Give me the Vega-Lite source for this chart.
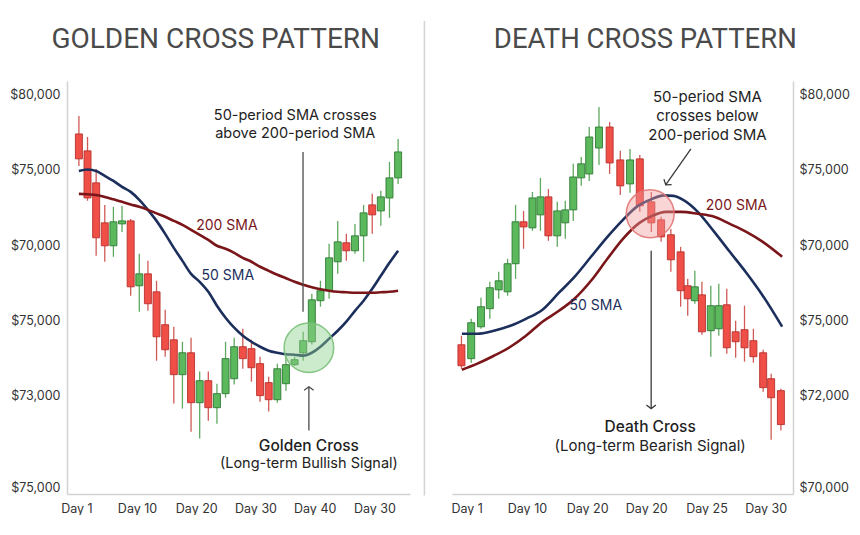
{
  "$schema": "https://vega.github.io/schema/vega-lite/v6.json",
  "background": "white",
  "padding": {"left": 9, "top": 20, "right": 0, "bottom": 0},
  "bounds": "flush",
  "spacing": 42,
  "config": {
    "view": {"stroke": null},
    "axis": {"labelFont": "Inter", "labelFontSize": 12.5, "labelColor": "#333333", "domainColor": "#d2d2d2", "domainWidth": 1.5, "ticks": false, "grid": false, "title": null, "labelFlush": false, "labelOverlap": false},
    "text": {"font": "Inter"}
  },
  "datasets": {
    "golden": [
      {"i": 1, "open": 77360, "high": 78550, "low": 75240, "close": 75710},
      {"i": 2, "open": 76240, "high": 77160, "low": 72930, "close": 73120},
      {"i": 3, "open": 74120, "high": 75040, "low": 69290, "close": 70480},
      {"i": 4, "open": 71470, "high": 72660, "low": 68890, "close": 69950},
      {"i": 5, "open": 69950, "high": 72530, "low": 69220, "close": 71540},
      {"i": 6, "open": 71400, "high": 72600, "low": 70870, "close": 71600},
      {"i": 7, "open": 71600, "high": 71730, "low": 66640, "close": 67230},
      {"i": 8, "open": 67300, "high": 69420, "low": 65580, "close": 68090},
      {"i": 9, "open": 68090, "high": 68950, "low": 65640, "close": 66110},
      {"i": 10, "open": 66900, "high": 67630, "low": 62330, "close": 63920},
      {"i": 11, "open": 64720, "high": 65710, "low": 62600, "close": 63060},
      {"i": 12, "open": 63720, "high": 64580, "low": 59490, "close": 61410},
      {"i": 13, "open": 61410, "high": 63590, "low": 59160, "close": 62860},
      {"i": 14, "open": 62860, "high": 63860, "low": 57630, "close": 59550},
      {"i": 15, "open": 59550, "high": 61610, "low": 57170, "close": 61010},
      {"i": 16, "open": 61010, "high": 61610, "low": 58360, "close": 59220},
      {"i": 17, "open": 59220, "high": 60810, "low": 58160, "close": 60150},
      {"i": 18, "open": 60150, "high": 63590, "low": 59880, "close": 62470},
      {"i": 19, "open": 61140, "high": 63860, "low": 60750, "close": 63260},
      {"i": 20, "open": 63260, "high": 64450, "low": 61800, "close": 62470},
      {"i": 21, "open": 63130, "high": 63720, "low": 60940, "close": 61870},
      {"i": 22, "open": 62140, "high": 62600, "low": 59620, "close": 60020},
      {"i": 23, "open": 60880, "high": 61270, "low": 58960, "close": 59750},
      {"i": 24, "open": 59750, "high": 62140, "low": 59550, "close": 61800},
      {"i": 25, "open": 60810, "high": 62800, "low": 60350, "close": 62070},
      {"i": 26, "open": 62070, "high": 62600, "low": 61990, "close": 62400},
      {"i": 27, "open": 62860, "high": 64250, "low": 62330, "close": 63660},
      {"i": 28, "open": 63590, "high": 66770, "low": 63400, "close": 66370},
      {"i": 29, "open": 66310, "high": 67630, "low": 65910, "close": 66970},
      {"i": 30, "open": 66970, "high": 70080, "low": 66440, "close": 69150},
      {"i": 31, "open": 68890, "high": 71600, "low": 68090, "close": 70210},
      {"i": 32, "open": 70150, "high": 70740, "low": 68950, "close": 69620},
      {"i": 33, "open": 69620, "high": 71400, "low": 69420, "close": 70610},
      {"i": 34, "open": 70610, "high": 72660, "low": 68890, "close": 72130},
      {"i": 35, "open": 72660, "high": 73390, "low": 70740, "close": 72000},
      {"i": 36, "open": 72260, "high": 73590, "low": 71270, "close": 73190},
      {"i": 37, "open": 73120, "high": 75510, "low": 71800, "close": 74450},
      {"i": 38, "open": 74450, "high": 77030, "low": 74050, "close": 76170}
    ],
    "goldenSMA": [
      {"i": 1, "series": "50 SMA", "p": 74910}, {"i": 2, "series": "50 SMA", "p": 75010}, {"i": 3, "series": "50 SMA", "p": 74910},
      {"i": 4, "series": "50 SMA", "p": 74580}, {"i": 5, "series": "50 SMA", "p": 74250}, {"i": 6, "series": "50 SMA", "p": 73850},
      {"i": 7, "series": "50 SMA", "p": 73520}, {"i": 8, "series": "50 SMA", "p": 72990}, {"i": 9, "series": "50 SMA", "p": 72330},
      {"i": 10, "series": "50 SMA", "p": 71600}, {"i": 11, "series": "50 SMA", "p": 70740}, {"i": 12, "series": "50 SMA", "p": 69810},
      {"i": 13, "series": "50 SMA", "p": 68950}, {"i": 14, "series": "50 SMA", "p": 68090}, {"i": 15, "series": "50 SMA", "p": 67560},
      {"i": 16, "series": "50 SMA", "p": 66900}, {"i": 17, "series": "50 SMA", "p": 65980}, {"i": 18, "series": "50 SMA", "p": 65180},
      {"i": 19, "series": "50 SMA", "p": 64520}, {"i": 20, "series": "50 SMA", "p": 63990}, {"i": 21, "series": "50 SMA", "p": 63590},
      {"i": 22, "series": "50 SMA", "p": 63260}, {"i": 23, "series": "50 SMA", "p": 63000}, {"i": 24, "series": "50 SMA", "p": 62860},
      {"i": 25, "series": "50 SMA", "p": 62760}, {"i": 26, "series": "50 SMA", "p": 62730}, {"i": 27, "series": "50 SMA", "p": 62670},
      {"i": 28, "series": "50 SMA", "p": 62860}, {"i": 29, "series": "50 SMA", "p": 63260}, {"i": 30, "series": "50 SMA", "p": 63790},
      {"i": 31, "series": "50 SMA", "p": 64320}, {"i": 32, "series": "50 SMA", "p": 64920}, {"i": 33, "series": "50 SMA", "p": 65640},
      {"i": 34, "series": "50 SMA", "p": 66310}, {"i": 35, "series": "50 SMA", "p": 67100}, {"i": 36, "series": "50 SMA", "p": 67960},
      {"i": 37, "series": "50 SMA", "p": 68820}, {"i": 38, "series": "50 SMA", "p": 69620},
      {"i": 1, "series": "200 SMA", "p": 73390}, {"i": 2, "series": "200 SMA", "p": 73360}, {"i": 3, "series": "200 SMA", "p": 73320},
      {"i": 4, "series": "200 SMA", "p": 73190}, {"i": 5, "series": "200 SMA", "p": 73030}, {"i": 6, "series": "200 SMA", "p": 72860},
      {"i": 7, "series": "200 SMA", "p": 72690}, {"i": 8, "series": "200 SMA", "p": 72530}, {"i": 9, "series": "200 SMA", "p": 72330},
      {"i": 10, "series": "200 SMA", "p": 72100}, {"i": 11, "series": "200 SMA", "p": 71870}, {"i": 12, "series": "200 SMA", "p": 71600},
      {"i": 13, "series": "200 SMA", "p": 71340}, {"i": 14, "series": "200 SMA", "p": 71010}, {"i": 15, "series": "200 SMA", "p": 70680},
      {"i": 16, "series": "200 SMA", "p": 70340}, {"i": 17, "series": "200 SMA", "p": 69950}, {"i": 18, "series": "200 SMA", "p": 69750},
      {"i": 19, "series": "200 SMA", "p": 69480}, {"i": 20, "series": "200 SMA", "p": 69150}, {"i": 21, "series": "200 SMA", "p": 68890},
      {"i": 22, "series": "200 SMA", "p": 68560}, {"i": 23, "series": "200 SMA", "p": 68290}, {"i": 24, "series": "200 SMA", "p": 68030},
      {"i": 25, "series": "200 SMA", "p": 67800}, {"i": 26, "series": "200 SMA", "p": 67560}, {"i": 27, "series": "200 SMA", "p": 67370},
      {"i": 28, "series": "200 SMA", "p": 67200}, {"i": 29, "series": "200 SMA", "p": 67070}, {"i": 30, "series": "200 SMA", "p": 66970},
      {"i": 31, "series": "200 SMA", "p": 66900}, {"i": 32, "series": "200 SMA", "p": 66870}, {"i": 33, "series": "200 SMA", "p": 66840},
      {"i": 34, "series": "200 SMA", "p": 66840}, {"i": 35, "series": "200 SMA", "p": 66840}, {"i": 36, "series": "200 SMA", "p": 66870},
      {"i": 37, "series": "200 SMA", "p": 66900}, {"i": 38, "series": "200 SMA", "p": 66970}
    ],
    "death": [
      {"i": 1.0, "open": 63390, "high": 63990, "low": 61800, "close": 62000},
      {"i": 2.1, "open": 62470, "high": 65110, "low": 62200, "close": 64850},
      {"i": 3.2, "open": 64580, "high": 66500, "low": 64450, "close": 65910},
      {"i": 4.2, "open": 65780, "high": 67560, "low": 65110, "close": 67170},
      {"i": 5.2, "open": 67030, "high": 68230, "low": 66440, "close": 67630},
      {"i": 6.2, "open": 66900, "high": 69090, "low": 66640, "close": 68760},
      {"i": 7.1, "open": 68760, "high": 72660, "low": 67760, "close": 71540},
      {"i": 8.0, "open": 71540, "high": 72260, "low": 69750, "close": 71200},
      {"i": 9.0, "open": 71140, "high": 73520, "low": 70940, "close": 73120},
      {"i": 9.9, "open": 72000, "high": 74450, "low": 70940, "close": 73190},
      {"i": 10.8, "open": 73190, "high": 73720, "low": 70280, "close": 70610},
      {"i": 11.8, "open": 70610, "high": 72860, "low": 69880, "close": 72260},
      {"i": 12.7, "open": 71470, "high": 72930, "low": 70410, "close": 72330},
      {"i": 13.6, "open": 72330, "high": 75380, "low": 71600, "close": 74510},
      {"i": 14.5, "open": 74450, "high": 75840, "low": 73920, "close": 75380},
      {"i": 15.4, "open": 74710, "high": 77820, "low": 74250, "close": 77160},
      {"i": 16.5, "open": 76430, "high": 79150, "low": 75310, "close": 77820},
      {"i": 17.7, "open": 77820, "high": 78160, "low": 74710, "close": 75440},
      {"i": 18.9, "open": 75640, "high": 76240, "low": 73320, "close": 73920},
      {"i": 20.0, "open": 74050, "high": 76370, "low": 73460, "close": 75640},
      {"i": 21.1, "open": 75710, "high": 75970, "low": 72200, "close": 72600},
      {"i": 22.4, "open": 72860, "high": 73520, "low": 70870, "close": 71470},
      {"i": 23.5, "open": 71670, "high": 71870, "low": 70210, "close": 70540},
      {"i": 24.6, "open": 70680, "high": 71070, "low": 68230, "close": 69020},
      {"i": 25.7, "open": 69550, "high": 69880, "low": 65910, "close": 66970},
      {"i": 26.5, "open": 67300, "high": 67760, "low": 65310, "close": 66440},
      {"i": 27.3, "open": 66310, "high": 68290, "low": 66100, "close": 67230},
      {"i": 28.1, "open": 66700, "high": 67560, "low": 64060, "close": 64250},
      {"i": 29.1, "open": 64320, "high": 67300, "low": 62600, "close": 65980},
      {"i": 30.0, "open": 64450, "high": 67430, "low": 63990, "close": 65980},
      {"i": 30.9, "open": 66040, "high": 67100, "low": 62800, "close": 63190},
      {"i": 31.9, "open": 64250, "high": 64980, "low": 62530, "close": 63590},
      {"i": 32.9, "open": 64390, "high": 65980, "low": 62270, "close": 63190},
      {"i": 33.9, "open": 63660, "high": 64450, "low": 62200, "close": 62600},
      {"i": 35.0, "open": 62860, "high": 63060, "low": 60280, "close": 60550},
      {"i": 35.9, "open": 61140, "high": 61470, "low": 57100, "close": 59880},
      {"i": 37.0, "open": 60350, "high": 60480, "low": 57700, "close": 58100}
    ],
    "deathSMA": [
      {"i": 1.05, "series": "50 SMA", "p": 64120}, {"i": 2.8, "series": "50 SMA", "p": 64120}, {"i": 4.66, "series": "50 SMA", "p": 64320},
      {"i": 6.52, "series": "50 SMA", "p": 64650}, {"i": 8.27, "series": "50 SMA", "p": 65110}, {"i": 10.13, "series": "50 SMA", "p": 65710},
      {"i": 11.99, "series": "50 SMA", "p": 66840}, {"i": 13.74, "series": "50 SMA", "p": 67890}, {"i": 15.6, "series": "50 SMA", "p": 69220},
      {"i": 17.45, "series": "50 SMA", "p": 70540}, {"i": 19.2, "series": "50 SMA", "p": 71670}, {"i": 20.74, "series": "50 SMA", "p": 72530},
      {"i": 22.49, "series": "50 SMA", "p": 73060}, {"i": 23.8, "series": "50 SMA", "p": 73290}, {"i": 24.89, "series": "50 SMA", "p": 73260},
      {"i": 25.99, "series": "50 SMA", "p": 72990}, {"i": 27.63, "series": "50 SMA", "p": 72200}, {"i": 29.49, "series": "50 SMA", "p": 70870},
      {"i": 31.24, "series": "50 SMA", "p": 69550}, {"i": 33.1, "series": "50 SMA", "p": 68160}, {"i": 34.96, "series": "50 SMA", "p": 66640},
      {"i": 37.14, "series": "50 SMA", "p": 64590},
      {"i": 1.05, "series": "200 SMA", "p": 61740}, {"i": 2.8, "series": "200 SMA", "p": 62140}, {"i": 4.66, "series": "200 SMA", "p": 62660},
      {"i": 6.52, "series": "200 SMA", "p": 63260}, {"i": 8.27, "series": "200 SMA", "p": 63990}, {"i": 10.13, "series": "200 SMA", "p": 64920},
      {"i": 11.99, "series": "200 SMA", "p": 65640}, {"i": 13.74, "series": "200 SMA", "p": 66440}, {"i": 15.6, "series": "200 SMA", "p": 67630},
      {"i": 17.45, "series": "200 SMA", "p": 69090}, {"i": 19.2, "series": "200 SMA", "p": 70410}, {"i": 21.06, "series": "200 SMA", "p": 71470},
      {"i": 22.49, "series": "200 SMA", "p": 71930}, {"i": 24.02, "series": "200 SMA", "p": 72200}, {"i": 25.77, "series": "200 SMA", "p": 72200},
      {"i": 27.63, "series": "200 SMA", "p": 72070}, {"i": 29.49, "series": "200 SMA", "p": 71870}, {"i": 31.24, "series": "200 SMA", "p": 71400},
      {"i": 33.1, "series": "200 SMA", "p": 70870}, {"i": 34.96, "series": "200 SMA", "p": 70210}, {"i": 37.14, "series": "200 SMA", "p": 69220}
    ]
  },
  "hconcat": [
    {
      "width": 343,
      "height": 413,
      "layer": [
        {
          "data": {"values": [{"i": 41.05, "top": 84840, "bottom": 53400}]},
          "mark": {"type": "rule", "color": "#d4d4d4", "strokeWidth": 1.5},
          "encoding": {
            "x": {"field": "i", "type": "quantitative", "scale": {"domain": [0.2, 38.8], "nice": false, "zero": false},
              "axis": {"orient": "bottom", "title": null, "labelPadding": 8, "values": [0.71, 7.74, 14.6, 21.47, 28.33, 35.26],
                "labelExpr": "datum.value < 4 ? 'Day 1' : datum.value < 11 ? 'Day 10' : datum.value < 18 ? 'Day 20' : datum.value < 25 ? 'Day 30' : datum.value < 32 ? 'Day 40' : 'Day 30'"}},
            "y": {"field": "top", "type": "quantitative", "scale": {"domain": [53500, 80870], "nice": false, "zero": false},
              "axis": {"orient": "left", "title": null, "labelPadding": 7, "values": [80000, 75000, 70000, 65000, 60000, 53930],
                "labelExpr": "datum.value == 80000 ? '$80,000' : datum.value == 75000 ? '$75,000' : datum.value == 70000 ? '$70,000' : datum.value == 65000 ? '$75,000' : datum.value == 60000 ? '$73,000' : '$75,000'"}},
            "y2": {"field": "bottom"}
          }
        },
        {
          "data": {"values": [{"i": 16.86, "p": 83580, "text": "GOLDEN CROSS PATTERN"}]},
          "mark": {"type": "text", "font": "Roboto", "fontSize": 28, "color": "#4a4a4a", "align": "center", "baseline": "middle"},
          "encoding": {
            "x": {"field": "i", "type": "quantitative", "title": null},
            "y": {"field": "p", "type": "quantitative", "title": null},
            "text": {"field": "text"}
          }
        },
        {
          "data": {"name": "golden"},
          "mark": {"type": "rule", "strokeWidth": 1.3},
          "encoding": {
            "x": {"field": "i", "type": "quantitative", "title": null},
            "y": {"field": "low", "type": "quantitative", "title": null},
            "y2": {"field": "high"},
            "color": {"condition": {"test": "datum.close >= datum.open", "value": "#5fa85f"}, "value": "#cf5a56"}
          }
        },
        {
          "data": {"name": "golden"},
          "mark": {"type": "bar", "width": 7, "strokeWidth": 0.9},
          "encoding": {
            "x": {"field": "i", "type": "quantitative", "title": null},
            "y": {"field": "open", "type": "quantitative", "title": null, "scale": {"zero": false}},
            "y2": {"field": "close"},
            "color": {"condition": {"test": "datum.close >= datum.open", "value": "#5cb85c"}, "value": "#ef4f47"},
            "stroke": {"condition": {"test": "datum.close >= datum.open", "value": "#2f7a34"}, "value": "#b8312c"}
          }
        },
        {
          "data": {"name": "goldenSMA"},
          "mark": {"type": "line", "interpolate": "monotone", "strokeWidth": 2.6},
          "encoding": {
            "x": {"field": "i", "type": "quantitative", "title": null},
            "y": {"field": "p", "type": "quantitative", "title": null},
            "color": {"field": "series", "type": "nominal", "scale": {"domain": ["50 SMA", "200 SMA"], "range": ["#1c2f5c", "#7a1619"]}, "legend": null}
          }
        },
        {
          "data": {"values": [{"i": 27.66, "p": 63190}]},
          "mark": {"type": "point", "shape": "circle", "filled": true, "size": 2460, "fill": "#8fd08f", "fillOpacity": 0.45, "stroke": "#79c079", "strokeWidth": 1.5, "strokeOpacity": 0.9},
          "encoding": {
            "x": {"field": "i", "type": "quantitative", "title": null},
            "y": {"field": "p", "type": "quantitative", "title": null}
          }
        },
        {
          "data": {"values": [{"i": 26.98, "top": 76170, "bottom": 65580}, {"i": 27.66, "top": 60610, "bottom": 57700}]},
          "mark": {"type": "rule", "color": "#4a4a4a", "strokeWidth": 1.3},
          "encoding": {
            "x": {"field": "i", "type": "quantitative", "title": null},
            "y": {"field": "top", "type": "quantitative", "title": null},
            "y2": {"field": "bottom"}
          }
        },
        {
          "data": {"values": [{"i": 27.66, "p": 60610}]},
          "mark": {"type": "point", "shape": "M -1 0.75 L 0 0 L 1 0.75", "filled": false, "size": 90, "stroke": "#4a4a4a", "strokeWidth": 1.3, "opacity": 1, "angle": 0},
          "encoding": {
            "x": {"field": "i", "type": "quantitative", "title": null},
            "y": {"field": "p", "type": "quantitative", "title": null}
          }
        },
        {
          "data": {"values": [
            {"i": 26.08, "p": 78560, "text": "50-period SMA crosses\nabove 200-period SMA"},
            {"i": 27.66, "p": 55520, "text": "(Long-term Bullish Signal)"}
          ]},
          "mark": {"type": "text", "fontSize": 14.5, "color": "#222222", "align": "center", "baseline": "middle", "lineBreak": "\n", "lineHeight": 18},
          "encoding": {
            "x": {"field": "i", "type": "quantitative", "title": null},
            "y": {"field": "p", "type": "quantitative", "title": null},
            "text": {"field": "text"}
          }
        },
        {
          "data": {"values": [{"i": 27.66, "p": 56710, "text": "Golden Cross"}]},
          "mark": {"type": "text", "fontSize": 15.5, "fontWeight": 500, "color": "#1e1e1e", "align": "center", "baseline": "middle"},
          "encoding": {
            "x": {"field": "i", "type": "quantitative", "title": null},
            "y": {"field": "p", "type": "quantitative", "title": null},
            "text": {"field": "text"}
          }
        },
        {
          "data": {"values": [
            {"i": 18.15, "p": 71270, "text": "200 SMA", "series": "200 SMA"},
            {"i": 18.26, "p": 67950, "text": "50 SMA", "series": "50 SMA"}
          ]},
          "mark": {"type": "text", "fontSize": 14, "align": "center", "baseline": "middle"},
          "encoding": {
            "x": {"field": "i", "type": "quantitative", "title": null},
            "y": {"field": "p", "type": "quantitative", "title": null},
            "text": {"field": "text"},
            "color": {"field": "series", "type": "nominal", "legend": null}
          }
        }
      ]
    },
    {
      "width": 341,
      "height": 413,
      "layer": [
        {
          "data": {"values": [{"i": 21.72, "p": 83580, "text": "DEATH CROSS PATTERN"}]},
          "mark": {"type": "text", "font": "Roboto", "fontSize": 27.5, "color": "#4a4a4a", "align": "center", "baseline": "middle"},
          "encoding": {
            "x": {"field": "i", "type": "quantitative", "scale": {"domain": [0.5, 37.8], "nice": false, "zero": false},
              "axis": {"orient": "bottom", "title": null, "labelPadding": 8, "values": [1.59, 8.38, 15.16, 21.83, 28.61, 35.28],
                "labelExpr": "datum.value < 5 ? 'Day 1' : datum.value < 12 ? 'Day 10' : datum.value < 25 ? 'Day 20' : datum.value < 32 ? 'Day 25' : 'Day 30'"}},
            "y": {"field": "p", "type": "quantitative", "scale": {"domain": [53500, 80870], "nice": false, "zero": false},
              "axis": {"orient": "right", "title": null, "labelPadding": 6, "values": [80000, 75000, 70000, 65000, 60000, 53930],
                "labelExpr": "datum.value == 80000 ? '$80,000' : datum.value == 75000 ? '$75,000' : datum.value == 70000 ? '$70,000' : datum.value == 65000 ? '$75,000' : datum.value == 60000 ? '$72,000' : '$70,000'"}},
            "text": {"field": "text"}
          }
        },
        {
          "data": {"name": "death"},
          "mark": {"type": "rule", "strokeWidth": 1.3},
          "encoding": {
            "x": {"field": "i", "type": "quantitative", "title": null},
            "y": {"field": "low", "type": "quantitative", "title": null},
            "y2": {"field": "high"},
            "color": {"condition": {"test": "datum.close >= datum.open", "value": "#5fa85f"}, "value": "#cf5a56"}
          }
        },
        {
          "data": {"name": "death"},
          "mark": {"type": "bar", "width": 7, "strokeWidth": 0.9},
          "encoding": {
            "x": {"field": "i", "type": "quantitative", "title": null},
            "y": {"field": "open", "type": "quantitative", "title": null, "scale": {"zero": false}},
            "y2": {"field": "close"},
            "color": {"condition": {"test": "datum.close >= datum.open", "value": "#5cb85c"}, "value": "#ef4f47"},
            "stroke": {"condition": {"test": "datum.close >= datum.open", "value": "#2f7a34"}, "value": "#b8312c"}
          }
        },
        {
          "data": {"name": "deathSMA"},
          "mark": {"type": "line", "interpolate": "monotone", "strokeWidth": 2.6},
          "encoding": {
            "x": {"field": "i", "type": "quantitative", "title": null},
            "y": {"field": "p", "type": "quantitative", "title": null},
            "color": {"field": "series", "type": "nominal", "scale": {"domain": ["50 SMA", "200 SMA"], "range": ["#1c2f5c", "#7a1619"]}, "legend": null}
          }
        },
        {
          "data": {"values": [{"i": 22.27, "p": 72070}]},
          "mark": {"type": "point", "shape": "circle", "filled": true, "size": 2290, "fill": "#f29a9a", "fillOpacity": 0.42, "stroke": "#e27474", "strokeWidth": 1.5, "strokeOpacity": 0.9},
          "encoding": {
            "x": {"field": "i", "type": "quantitative", "title": null},
            "y": {"field": "p", "type": "quantitative", "title": null}
          }
        },
        {
          "data": {"values": [{"i": 26.86, "p": 76370}, {"i": 24.02, "p": 73990}]},
          "mark": {"type": "line", "color": "#3a3a3a", "strokeWidth": 1.3},
          "encoding": {
            "x": {"field": "i", "type": "quantitative", "title": null},
            "y": {"field": "p", "type": "quantitative", "title": null}
          }
        },
        {
          "data": {"values": [{"i": 22.38, "top": 69620, "bottom": 59160}]},
          "mark": {"type": "rule", "color": "#3a3a3a", "strokeWidth": 1.3},
          "encoding": {
            "x": {"field": "i", "type": "quantitative", "title": null},
            "y": {"field": "top", "type": "quantitative", "title": null},
            "y2": {"field": "bottom"}
          }
        },
        {
          "data": {"values": [{"i": 24.02, "p": 73990, "angle": 215.8}, {"i": 22.38, "p": 59160, "angle": 180}]},
          "mark": {"type": "point", "shape": "M -1 0.75 L 0 0 L 1 0.75", "filled": false, "size": 90, "stroke": "#3a3a3a", "strokeWidth": 1.3, "opacity": 1},
          "encoding": {
            "x": {"field": "i", "type": "quantitative", "title": null},
            "y": {"field": "p", "type": "quantitative", "title": null},
            "angle": {"field": "angle", "type": "quantitative", "scale": null}
          }
        },
        {
          "data": {"values": [
            {"i": 28.72, "p": 79810, "text": "50-period SMA\ncrosses below\n200-period SMA"},
            {"i": 22.27, "p": 56710, "text": "(Long-term Bearish Signal)"}
          ]},
          "mark": {"type": "text", "fontSize": 15, "color": "#222222", "align": "center", "baseline": "middle", "lineBreak": "\n", "lineHeight": 19},
          "encoding": {
            "x": {"field": "i", "type": "quantitative", "title": null},
            "y": {"field": "p", "type": "quantitative", "title": null},
            "text": {"field": "text"}
          }
        },
        {
          "data": {"values": [{"i": 22.27, "p": 57960, "text": "Death Cross"}]},
          "mark": {"type": "text", "fontSize": 15.5, "fontWeight": 500, "color": "#1e1e1e", "align": "center", "baseline": "middle"},
          "encoding": {
            "x": {"field": "i", "type": "quantitative", "title": null},
            "y": {"field": "p", "type": "quantitative", "title": null},
            "text": {"field": "text"}
          }
        },
        {
          "data": {"values": [
            {"i": 32.0, "p": 72590, "text": "200 SMA", "series": "200 SMA"},
            {"i": 16.14, "p": 65980, "text": "50 SMA", "series": "50 SMA"}
          ]},
          "mark": {"type": "text", "fontSize": 14, "align": "center", "baseline": "middle"},
          "encoding": {
            "x": {"field": "i", "type": "quantitative", "title": null},
            "y": {"field": "p", "type": "quantitative", "title": null},
            "text": {"field": "text"},
            "color": {"field": "series", "type": "nominal", "legend": null}
          }
        }
      ]
    }
  ]
}
